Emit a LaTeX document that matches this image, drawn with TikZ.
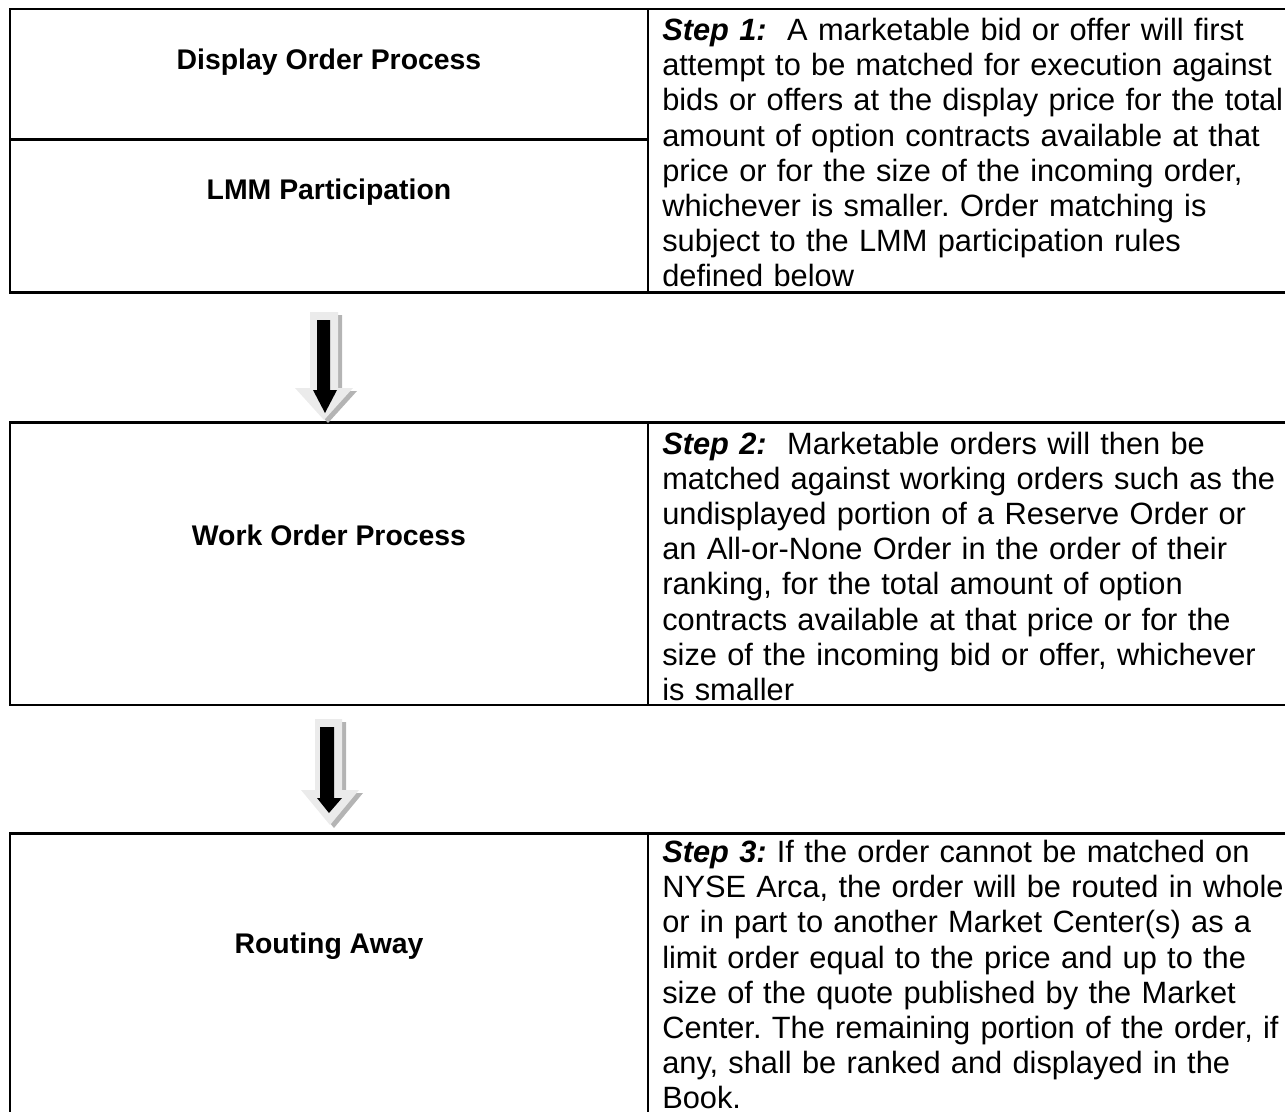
\documentclass[tikz,border=0pt]{standalone}
\usepackage{fontspec}
\setmainfont{Liberation Sans}
\definecolor{arrowlight}{HTML}{EBEBEB}
\definecolor{arrowshade}{HTML}{B4B4B4}
\begin{document}
\frenchspacing
\begin{tikzpicture}[x=0.75pt,y=-0.75pt,
  rule/.style={line width=1.95pt},
  bodytext/.style={anchor=base west, inner sep=0pt, text width=525pt, align=left,
    font=\fontsize{23.1pt}{26.4pt}\selectfont\frenchspacing},
  celllabel/.style={anchor=base, inner sep=0pt,
    font=\fontsize{21.3pt}{24.5pt}\selectfont\bfseries},
  arrowbody/.style={fill=arrowlight, draw=none},
  arrowshadow/.style={fill=arrowshade, draw=none},
  arrowcore/.style={fill=black, draw=none}]
\useasboundingbox (0,0) rectangle (1285,1111);
\begin{scope}
\clip (0,0) rectangle (1285,1111);
% table 1
\draw[rule] (10,9) rectangle (1310,292.7);
\draw[rule] (648,9) -- (648,292.7);
\draw[rule] (10,139.5) -- (648,139.5);
% table 2
\draw[rule] (10,422.7) rectangle (1310,705);
\draw[rule] (648,422.7) -- (648,705);
% table 3
\draw[rule] (10,833.3) rectangle (1310,1140);
\draw[rule] (648,833.3) -- (648,1140);
\end{scope}

% labels
\node[celllabel] (dop) at (329,69) {Display Order Process};
\node[celllabel] (lmm) at (329,199) {LMM Participation};
\node[celllabel] (wop) at (329,545) {Work Order Process};
\node[celllabel] (ra) at (329,953) {Routing Away};

% step texts
\node[bodytext] (s1) at (662,40.5) {\textbf{\textit{Step 1:}}~ A marketable bid or offer will first\\
attempt to be matched for execution against\\
bids or offers at the display price for the total\\
amount of option contracts available at that\\
price or for the size of the incoming order,\\
whichever is smaller. Order matching is\\
subject to the LMM participation rules\\
defined below};
\node[bodytext] (s2) at (662,454) {\textbf{\textit{Step 2:}}~ Marketable orders will then be\\
matched against working orders such as the\\
undisplayed portion of a Reserve Order or\\
an All-or-None Order in the order of their\\
ranking, for the total amount of option\\
contracts available at that price or for the\\
size of the incoming bid or offer, whichever\\
is smaller};
\node[bodytext] (s3) at (662,862.5) {\textbf{\textit{Step 3:}} If the order cannot be matched on\\
NYSE Arca, the order will be routed in whole\\
or in part to another Market Center(s) as a\\
limit order equal to the price and up to the\\
size of the quote published by the Market\\
Center. The remaining portion of the order, if\\
any, shall be ranked and displayed in the\\
Book.};

% arrow 1
\begin{scope}[shift={(4,3)}]
\fill[arrowshadow] (310,312) -- (338,312) -- (338,388) -- (353,388) -- (324,420) -- (295,388) -- (310,388) -- cycle;
\end{scope}
\fill[arrowbody] (310,312) -- (338,312) -- (338,388) -- (353,388) -- (324,420) -- (295,388) -- (310,388) -- cycle;
\fill[arrowcore] (317,320) -- (330,320) -- (330,390) -- (337,390) -- (325,413) -- (313,390) -- (317,390) -- cycle;

% arrow 2
\begin{scope}[shift={(4,3)}]
\fill[arrowshadow] (315,719) -- (342,719) -- (342,790) -- (359,790) -- (330,825) -- (301,790) -- (315,790) -- cycle;
\end{scope}
\fill[arrowbody] (315,719) -- (342,719) -- (342,790) -- (359,790) -- (330,825) -- (301,790) -- (315,790) -- cycle;
\fill[arrowcore] (320,727) -- (334,727) -- (334,798) -- (342,798) -- (329,813) -- (317,798) -- (320,798) -- cycle;
\end{tikzpicture}
\end{document}
